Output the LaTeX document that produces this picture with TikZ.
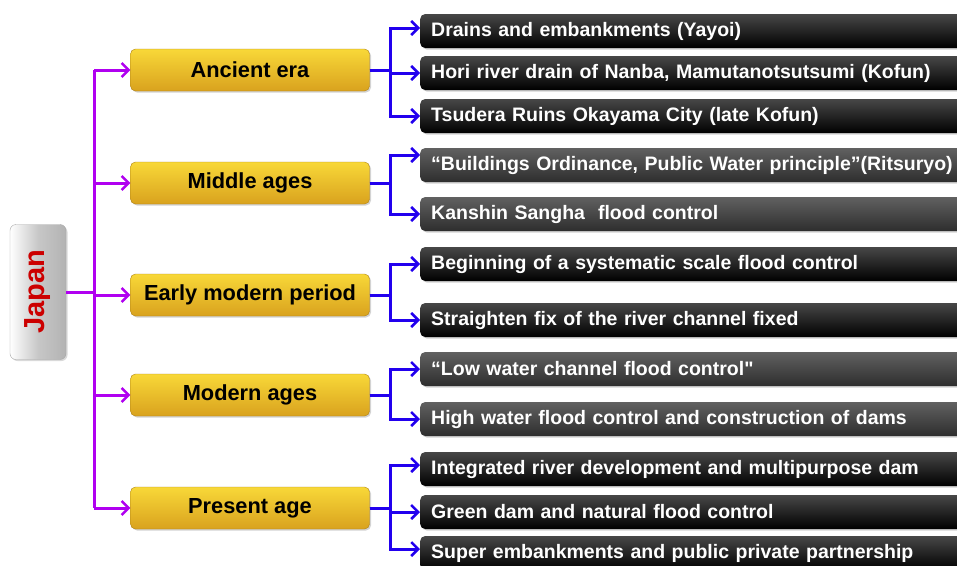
\documentclass[tikz,border=0pt]{standalone}
\usepackage{fontspec}
\setmainfont{Liberation Sans}
\newfontfamily\qf{Liberation Sans}
\usetikzlibrary{arrows.meta,shadows,calc}
\definecolor{purp}{HTML}{B000F0}
\definecolor{blu}{HTML}{2200EE}
\definecolor{goldtop}{HTML}{F8D838}
\definecolor{goldbot}{HTML}{D9A21E}
\tikzset{
  era/.style={rounded corners=5pt, top color=goldtop, bottom color=goldbot, draw=goldbot!80!black, line width=0.4pt,
    minimum width=239pt, minimum height=42pt, font=\fontsize{21.8}{22}\selectfont\bfseries, text=black,
    drop shadow={shadow xshift=1.5pt, shadow yshift=-1.5pt, opacity=0.35}},
  item/.style={rounded corners=5pt, top color=black!72, bottom color=black, draw=none,
    minimum height=34pt, text width=620pt, align=left, inner xsep=11pt, anchor=west,
    font=\fontsize{19.5}{20}\selectfont\bfseries, text=white,
    drop shadow={shadow xshift=1.5pt, shadow yshift=-1.5pt, opacity=0.35}},
  gitem/.style={item, top color=black!62, bottom color=black!82},
  parr/.style={draw=purp, line width=3pt, -{Straight Barb[length=7pt,width=14pt,line width=2.5pt]}},
  pline/.style={draw=purp, line width=3pt},
  barr/.style={draw=blu, line width=3pt, -{Straight Barb[length=7pt,width=14pt,line width=2.5pt]}},
}
\begin{document}
\begin{tikzpicture}[x=1pt,y=-1pt]
\useasboundingbox (0,0) rectangle (957,565);
\clip (0,0) rectangle (957,565);
% root
\node (jp) [rounded corners=6pt, left color=white, right color=black!30, middle color=black!22, draw=black!35,
  minimum width=56pt, minimum height=135pt, drop shadow={shadow xshift=1.5pt, shadow yshift=-1.5pt, opacity=0.3}]
  at (38,292) {};
\node (jpt) [rotate=90, font=\fontsize{29}{30}\selectfont\bfseries, text=red!80!black] at (jp.center) {Japan};
% eras
\node (e1) [era] at (250,70) {Ancient era};
\node (e2) [era] at (250,183) {Middle ages};
\node (e3) [era] at (250,295) {Early modern period};
\node (e4) [era] at (250,395) {Modern ages};
\node (e5) [era] at (250,508) {Present age};
% items
\node (a1) [item] at (420,31) {Drains and embankments (Yayoi)};
\node (a2) [item] at (420,73) {Hori river drain of Nanba, Mamutanotsutsumi (Kofun)};
\node (a3) [item] at (420,116) {Tsudera Ruins Okayama City (late Kofun)};
\node (b1) [gitem] at (420,165) {“Buildings Ordinance, Public Water principle”(Ritsuryo)};
\node (b2) [gitem] at (420,214) {Kanshin Sangha\ \ flood control};
\node (c1) [item] at (420,264) {Beginning of a systematic scale flood control};
\node (c2) [item] at (420,320) {Straighten fix of the river channel fixed};
\node (d1) [gitem] at (420,369) {“Low water channel flood control{\qf\bfseries"}};
\node (d2) [gitem] at (420,419) {High water flood control and construction of dams};
\node (f1) [item] at (420,469) {Integrated river development and multipurpose dam};
\node (f2) [item] at (420,512) {Green dam and natural flood control};
\node (f3) [item] at (420,553) {Super embankments and public private partnership};
% purple connectors
\coordinate (pt) at (94,70);
\coordinate (pb) at (94,508);
\draw[pline] (pt) -- (pb);
\draw[pline] (jp.east) -- (94,292);
\draw[parr] (pt) -- (e1.west);
\draw[parr] (94,183) -- (e2.west);
\draw[parr] (94,295) -- (e3.west);
\draw[parr] (94,395) -- (e4.west);
\draw[parr] (pb) -- (e5.west);
% blue connectors
\draw[barr] (e1.east) -- ++(21,0) |- ([yshift=3pt]a1.west);
\draw[barr] (e1.east) -- ++(21,0) |- (a2.west);
\draw[barr] (e1.east) -- ++(21,0) |- (a3.west);
\draw[barr] (e2.east) -- ++(21,0) |- ([yshift=10pt]b1.west);
\draw[barr] (e2.east) -- ++(21,0) |- (b2.west);
\draw[barr] (e3.east) -- ++(21,0) |- (c1.west);
\draw[barr] (e3.east) -- ++(21,0) |- (c2.west);
\draw[barr] (e4.east) -- ++(21,0) |- (d1.west);
\draw[barr] (e4.east) -- ++(21,0) |- (d2.west);
\draw[barr] (e5.east) -- ++(21,0) |- ([yshift=4pt]f1.west);
\draw[barr] (e5.east) -- ++(21,0) |- (f2.west);
\draw[barr] (e5.east) -- ++(21,0) |- ([yshift=4pt]f3.west);
\end{tikzpicture}
\end{document}
